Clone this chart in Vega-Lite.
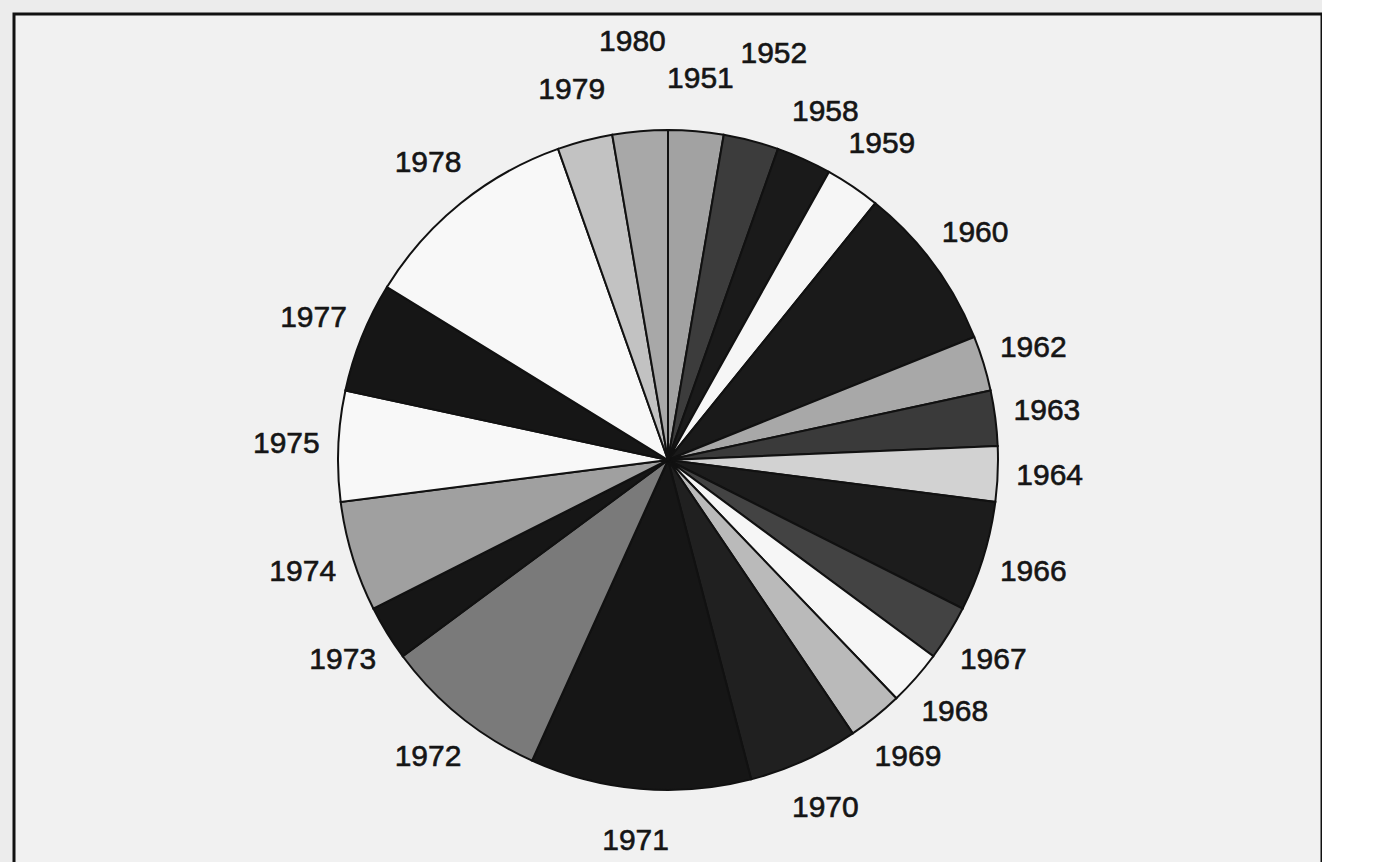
{
  "$schema": "https://vega.github.io/schema/vega-lite/v6.json",
  "width": 1308,
  "height": 892,
  "autosize": "none",
  "padding": {"left": 14, "top": 14, "right": 0, "bottom": 0},
  "background": "#ececec",
  "view": {"stroke": "#111111", "strokeWidth": 3, "fill": "#f1f1f1"},
  "data": {
    "values": [
      {"year": "1951", "count": 1},
      {"year": "1952", "count": 1},
      {"year": "1958", "count": 1},
      {"year": "1959", "count": 1},
      {"year": "1960", "count": 3},
      {"year": "1962", "count": 1},
      {"year": "1963", "count": 1},
      {"year": "1964", "count": 1},
      {"year": "1966", "count": 2},
      {"year": "1967", "count": 1},
      {"year": "1968", "count": 1},
      {"year": "1969", "count": 1},
      {"year": "1970", "count": 2},
      {"year": "1971", "count": 4},
      {"year": "1972", "count": 3},
      {"year": "1973", "count": 1},
      {"year": "1974", "count": 2},
      {"year": "1975", "count": 2},
      {"year": "1977", "count": 2},
      {"year": "1978", "count": 4},
      {"year": "1979", "count": 1},
      {"year": "1980", "count": 1}
    ]
  },
  "encoding": {
    "theta": {"field": "count", "type": "quantitative", "stack": true},
    "order": {"field": "year", "type": "ordinal", "sort": "ascending"}
  },
  "layer": [
    {
      "mark": {"type": "arc", "outerRadius": 330, "stroke": "#111111", "strokeWidth": 2},
      "encoding": {
        "color": {
          "field": "year",
          "type": "nominal",
          "legend": null,
          "scale": {
            "domain": ["1951","1952","1958","1959","1960","1962","1963","1964","1966","1967","1968","1969","1970","1971","1972","1973","1974","1975","1977","1978","1979","1980"],
            "range": ["#a2a2a2","#3c3c3c","#1a1a1a","#f6f6f6","#1a1a1a","#a8a8a8","#3a3a3a","#d2d2d2","#1c1c1c","#434343","#f6f6f6","#bababa","#202020","#161616","#7a7a7a","#161616","#a0a0a0","#f8f8f8","#161616","#f8f8f8","#c2c2c2","#a8a8a8"]
          }
        }
      }
    },
    {
      "mark": {"type": "text", "radius": 382, "fontSize": 30, "font": "Liberation Sans", "fill": "#151515", "stroke": "#151515", "strokeWidth": 0.6},
      "encoding": {
        "text": {"field": "year", "type": "nominal"},
        "opacity": {
          "condition": {"test": "datum.year === '1980' || datum.year === '1952'", "value": 0},
          "value": 1
        }
      }
    },
    {
      "mark": {"type": "text", "radius": 420, "fontSize": 30, "font": "Liberation Sans", "fill": "#151515", "stroke": "#151515", "strokeWidth": 0.6},
      "encoding": {
        "text": {"field": "year", "type": "nominal"},
        "opacity": {
          "condition": {"test": "datum.year === '1980' || datum.year === '1952'", "value": 1},
          "value": 0
        }
      }
    }
  ]
}
